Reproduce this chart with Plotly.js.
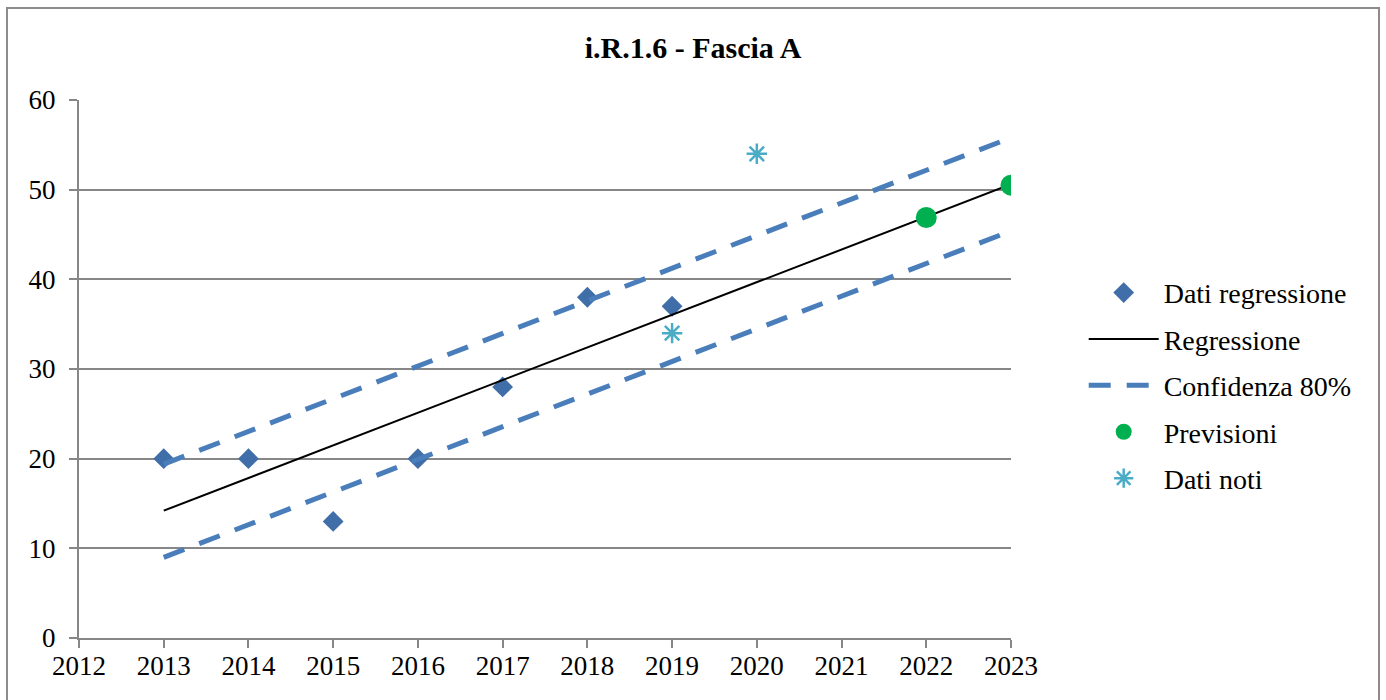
<!DOCTYPE html>
<html>
<head>
<meta charset="utf-8">
<script src="https://cdn.plot.ly/plotly-3.0.1.min.js"></script>
<style>
  body { margin: 0; background: #fff; }
  #frame { position: absolute; left: 6px; top: 7px; width: 1374px; height: 700px; border: 2px solid #8c8c8c; box-sizing: border-box; }
  #chart { position: absolute; left: 0; top: 0; width: 1386px; height: 700px; }
</style>
</head>
<body>
<div id="frame"></div>
<div id="chart"></div>
<script>
// values
var regYears = [2013, 2014, 2015, 2016, 2017, 2018, 2019];
var regValues = [20, 20, 13, 20, 28, 38, 37];

var lineYears = [2013, 2023];
var lineValues = [14.2, 50.6];
var upperValues = [19.4, 55.8];
var lowerValues = [9.0, 45.4];

var forecastYears = [2022, 2023];
var forecastValues = [46.9, 50.5];

var knownYears = [2019, 2020];
var knownValues = [34, 54];

var fontFam = 'Liberation Serif, Times New Roman, serif';
var gray = '#878787';
var confColor = '#4a7ebb';

var data = [
  {
    x: regYears, y: regValues, type: 'scatter', mode: 'markers',
    name: 'Dati regressione', legendgroup: 'g1',
    marker: { symbol: 'diamond', size: 16, color: '#3f6ea8' }
  },
  {
    x: lineYears, y: lineValues, type: 'scatter', mode: 'lines',
    name: 'Regressione', legendgroup: 'g2',
    line: { color: '#000000', width: 2 }
  },
  {
    x: lineYears, y: upperValues, type: 'scatter', mode: 'lines',
    name: 'Confidenza 80%', legendgroup: 'g3',
    line: { color: confColor, width: 5, dash: '22px,16px' }
  },
  {
    x: lineYears, y: lowerValues, type: 'scatter', mode: 'lines',
    name: 'Confidenza 80%', legendgroup: 'g3', showlegend: false,
    line: { color: confColor, width: 5, dash: '22px,16px' }
  },
  {
    x: forecastYears, y: forecastValues, type: 'scatter', mode: 'markers',
    name: 'Previsioni', legendgroup: 'g4',
    marker: { symbol: 'circle', size: 21, color: '#00b050' }
  },
  {
    x: knownYears, y: knownValues, type: 'scatter', mode: 'markers',
    name: 'Dati noti', legendgroup: 'g5',
    marker: { symbol: 'asterisk-open', size: 17, color: '#4bacc6', line: { color: '#4bacc6', width: 2.5 } }
  }
];

var layout = {
  width: 1386,
  height: 700,
  paper_bgcolor: 'rgba(0,0,0,0)',
  plot_bgcolor: '#ffffff',
  margin: { l: 79, r: 375, t: 100, b: 62 },
  font: { family: fontFam, color: '#000', size: 27 },
  title: {
    text: '<b>i.R.1.6 - Fascia A</b>',
    font: { family: fontFam, size: 30, color: '#000' },
    x: 0.5, xanchor: 'center', y: 0.932, yanchor: 'middle'
  },
  xaxis: {
    range: [2012, 2023], dtick: 1, tick0: 2012,
    showgrid: false, zeroline: false,
    showline: true, linecolor: gray, linewidth: 2,
    ticks: 'outside', ticklen: 8, tickwidth: 2, tickcolor: gray,
    ticklabelstandoff: -5,
    tickfont: { family: fontFam, size: 27, color: '#000' }
  },
  yaxis: {
    range: [0, 60], dtick: 10,
    showgrid: true, gridcolor: gray, gridwidth: 2, zeroline: false,
    showline: true, linecolor: gray, linewidth: 2,
    ticks: 'outside', ticklen: 8, tickwidth: 2, tickcolor: gray,
    ticklabelstandoff: 8,
    tickfont: { family: fontFam, size: 27, color: '#000' }
  },
  legend: {
    x: 1.078, xanchor: 'left', y: 0.688, yanchor: 'top',
    font: { family: fontFam, size: 28, color: '#000' },
    bgcolor: 'rgba(0,0,0,0)', tracegroupgap: 7, itemwidth: 70,
    traceorder: 'grouped'
  },
  showlegend: true
};

Plotly.newPlot('chart', data, layout, { displayModeBar: false, staticPlot: true });
</script>
</body>
</html>
